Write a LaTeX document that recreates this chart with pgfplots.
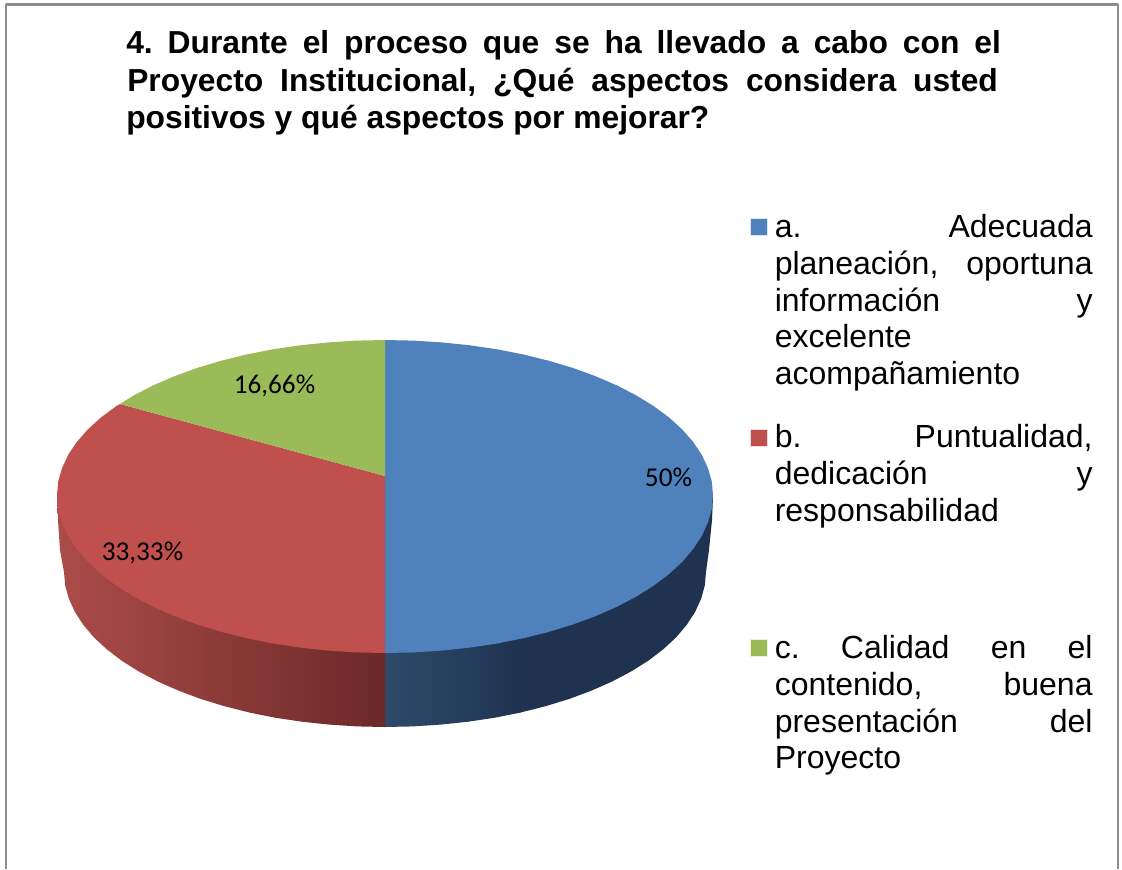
\documentclass[border=0pt]{standalone}
\usepackage{pgfplots}
\pgfplotsset{compat=1.18}
\usepackage{fontspec}
\setmainfont{Liberation Sans}
\newfontfamily\labfont{Carlito}
\definecolor{pblue}{HTML}{4F81BD}
\definecolor{pred}{HTML}{C0504D}
\definecolor{pgreen}{HTML}{9BBB59}
\definecolor{framec}{HTML}{8E8E8E}
\frenchspacing
\newcommand{\ttl}[1]{\fontsize{23.85pt}{27pt}\selectfont\bfseries #1}
\newcommand{\lgt}[1]{\fontsize{24pt}{27pt}\selectfont #1}
\newcommand{\jt}[2]{\makebox[#1][s]{#2}}
\begin{document}
\begin{tikzpicture}
\begin{axis}[
  scale only axis, width=841.5pt, height=651.75pt,
  xmin=0, xmax=1122, ymin=0, ymax=869, y dir=reverse,
  axis lines=none, no markers, clip=true,
  every axis plot/.append style={line join=round},
]
\path[use as bounding box] (axis cs:0,0) rectangle (axis cs:1122,869);
% chart frame (open at the bottom edge)
\addplot[draw=framec, line width=2pt] coordinates {(6,869) (6,4.5) (1118,4.5) (1118,869)};

% side wall, blue
\addplot[draw=none, fill={rgb,255:red,31;green,51;blue,80}] coordinates {
 (713,497) (712,520) (709,550) (706,572) (704.8,585.5) (701.1,598.9) (695,612.1) (686.6,625) (676,637.5) (663,649.5) (648,660.9)
 (630.9,671.6) (611.9,681.6) (591.3,690.7) (569.1,699) (545.5,706.2) (520.7,712.5) (520.7,600)} -- cycle;
\addplot[draw=none, left color={rgb,255:red,46;green,74;blue,107}, right color={rgb,255:red,31;green,51;blue,80}] coordinates {
 (385,600) (385,727) (413,726.4) (440.7,724.6) (468.1,721.7) (494.8,717.7) (521.2,712.4) (521.2,600)} -- cycle;

% side wall, red
\addplot[draw=none, left color={rgb,255:red,172;green,76;blue,73}, right color={rgb,255:red,107;green,41;blue,40}] coordinates {
 (385,600) (57,495) (58,520) (60,550) (64,572) (65.2,585.5) (68.9,598.9) (75,612.1) (83.4,625) (94,637.5) (107,649.5) (122,660.9)
 (139.1,671.6) (158.1,681.6) (178.7,690.7) (200.9,699) (224.5,706.2) (249.3,712.5) (275.2,717.7) (301.9,721.7) (329.3,724.6) (357,726.4) (385,727)} -- cycle;

% top face: a. 50%
\addplot[draw=none, fill=pblue] coordinates {
 (385,476) (385,340) (413.6,340.6) (441.9,342.4) (469.9,345.3) (497.2,349.3) (523.6,354.5) (549,360.8) (573.1,368) (595.8,376.3)
 (616.9,385.4) (636.3,395.4) (653.7,406.1) (669.1,417.5) (682.3,429.5) (693.2,442) (701.8,454.9) (708,468.1) (711.8,481.5) (713,495)
 (711.8,508.8) (708,522.4) (701.8,535.9) (693.2,549) (682.3,561.8) (669.1,574) (653.7,585.6) (636.3,596.6) (616.9,606.7)
 (595.8,616) (573.1,624.4) (549,631.8) (523.6,638.2) (497.2,643.5) (469.9,647.6) (441.9,650.6) (413.6,652.4) (385,653)} -- cycle;

% top face: b. 33,33%
\addplot[draw=none, fill=pred] coordinates {
 (385,476) (120,404) (116.3,406.1) (100.9,417.5) (87.7,429.5) (76.8,442) (68.2,454.9) (62,468.1) (58.2,481.5) (57,495)
 (58.2,508.8) (62,522.4) (68.2,535.9) (76.8,549) (87.7,561.8) (100.9,574) (116.3,585.6) (133.7,596.6) (153.1,606.7)
 (174.2,616) (196.9,624.4) (221,631.8) (246.4,638.2) (272.8,643.5) (300.1,647.6) (328.1,650.6) (356.4,652.4) (385,653)} -- cycle;

% top face: c. 16,66%
\addplot[draw=none, fill=pgreen] coordinates {
 (385,476) (120,404) (133.7,395.4) (153.1,385.4) (174.2,376.3) (196.9,368) (221,360.8) (246.4,354.5) (272.8,349.3) (300.1,345.3)
 (328.1,342.4) (356.4,340.6) (385,340)} -- cycle;

% legend keys
\addplot[draw=white!80!pblue, fill=pblue] coordinates {(750,218) (767,218) (767,235) (750,235)} -- cycle;
\addplot[draw=white!80!pred, fill=pred] coordinates {(750,429) (767,429) (767,446) (750,446)} -- cycle;
\addplot[draw=white!80!pgreen, fill=pgreen] coordinates {(750,639) (767,639) (767,656) (750,656)} -- cycle;

% title
\node[anchor=base west, inner sep=0pt] at (axis cs:126,53.5) {\ttl{\jt{656pt}{4. Durante el proceso que se ha llevado a cabo con el}}};
\node[anchor=base west, inner sep=0pt] at (axis cs:127,91) {\ttl{\jt{653pt}{Proyecto Institucional, ¿Qué aspectos considera usted}}};
\node[anchor=base west, inner sep=0pt] at (axis cs:126,128) {\ttl{positivos y qué aspectos por mejorar?}};

% data labels
\node[anchor=base, inner sep=0pt] at (axis cs:274.5,393) {\labfont\fontsize{20.4pt}{24pt}\selectfont 16,66\%};
\node[anchor=base, inner sep=0pt] at (axis cs:142.5,560) {\labfont\fontsize{20.4pt}{24pt}\selectfont 33,33\%};
\node[anchor=base, inner sep=0pt] at (axis cs:668.5,486) {\labfont\fontsize{20.4pt}{24pt}\selectfont 50\%};

% legend text
\node[anchor=base west, inner sep=0pt] at (axis cs:774.5,237) {\lgt{\jt{238.4pt}{a. Adecuada}}};
\node[anchor=base west, inner sep=0pt] at (axis cs:774.5,274) {\lgt{\jt{238.4pt}{planeación, oportuna}}};
\node[anchor=base west, inner sep=0pt] at (axis cs:774.5,311) {\lgt{\jt{238.4pt}{información y}}};
\node[anchor=base west, inner sep=0pt] at (axis cs:774.5,347.5) {\lgt{excelente}};
\node[anchor=base west, inner sep=0pt] at (axis cs:774.5,384) {\lgt{acompañamiento}};
\node[anchor=base west, inner sep=0pt] at (axis cs:774.5,447) {\lgt{\jt{238.4pt}{b. Puntualidad,}}};
\node[anchor=base west, inner sep=0pt] at (axis cs:774.5,484) {\lgt{\jt{238.4pt}{dedicación y}}};
\node[anchor=base west, inner sep=0pt] at (axis cs:774.5,521) {\lgt{responsabilidad}};
\node[anchor=base west, inner sep=0pt] at (axis cs:774.5,658) {\lgt{\jt{238.4pt}{c. Calidad en el}}};
\node[anchor=base west, inner sep=0pt] at (axis cs:774.5,695) {\lgt{\jt{238.4pt}{contenido, buena}}};
\node[anchor=base west, inner sep=0pt] at (axis cs:774.5,732) {\lgt{\jt{238.4pt}{presentación del}}};
\node[anchor=base west, inner sep=0pt] at (axis cs:774.5,768.5) {\lgt{Proyecto}};
\end{axis}
\end{tikzpicture}
\end{document}
